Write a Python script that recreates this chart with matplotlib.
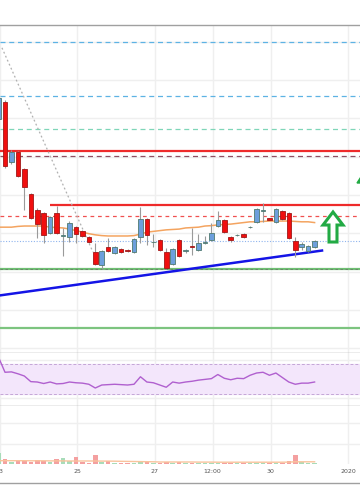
import matplotlib
matplotlib.use('Agg')
import matplotlib.pyplot as plt
from matplotlib.patches import Polygon
import numpy as np

# BTC/USD 4h candles, Dec 22 - Dec 31 2019 (visible part only)
opens  = [7498, 7543, 7386, 7412, 7368, 7303, 7261, 7253, 7201, 7253,
          7194, 7190, 7216, 7206, 7190, 7151, 7117, 7164, 7149, 7159,
          7157, 7151, 7190, 7237, 7177, 7183, 7151, 7120, 7183, 7153,
          7166, 7157, 7175, 7183, 7219, 7235, 7190, 7195, 7198, 7216,
          7230, 7259, 7240, 7230, 7258, 7253, 7180, 7164, 7154, 7164]
highs  = [7558, 7548, 7417, 7415, 7370, 7305, 7266, 7256, 7245, 7271,
          7214, 7232, 7219, 7209, 7193, 7175, 7157, 7188, 7167, 7162,
          7158, 7188, 7269, 7240, 7198, 7185, 7162, 7162, 7185, 7159,
          7214, 7198, 7193, 7227, 7258, 7237, 7193, 7197, 7200, 7218,
          7266, 7279, 7241, 7266, 7261, 7256, 7190, 7177, 7169, 7182]
lows   = [7493, 7370, 7381, 7347, 7261, 7237, 7188, 7175, 7198, 7198,
          7141, 7177, 7175, 7190, 7175, 7117, 7107, 7151, 7146, 7149,
          7151, 7149, 7175, 7170, 7164, 7154, 7107, 7117, 7138, 7149,
          7143, 7154, 7172, 7180, 7216, 7201, 7177, 7194, 7189, 7215,
          7227, 7230, 7234, 7227, 7235, 7185, 7138, 7157, 7151, 7162]
closes = [7553, 7376, 7412, 7350, 7321, 7240, 7224, 7196, 7243, 7201,
          7196, 7227, 7198, 7193, 7177, 7120, 7154, 7154, 7164, 7151,
          7153, 7185, 7237, 7196, 7178, 7157, 7110, 7159, 7141, 7156,
          7163, 7175, 7177, 7201, 7235, 7203, 7183, 7196, 7190, 7217,
          7263, 7261, 7235, 7263, 7237, 7188, 7157, 7172, 7167, 7180]
ema    = [7216, 7216, 7216, 7218, 7219, 7219, 7219, 7219, 7216, 7215,
          7214, 7211, 7207, 7203, 7199, 7196, 7194, 7193, 7193, 7193,
          7193, 7194, 7198, 7203, 7205, 7207, 7209, 7210, 7211, 7214,
          7215, 7216, 7219, 7220, 7222, 7223, 7224, 7226, 7228, 7230,
          7230, 7231, 7232, 7232, 7232, 7232, 7231, 7230, 7230, 7228]
rsi    = [79, 59, 59.5, 57, 54, 46.5, 46, 44, 46, 43.5,
          44, 46, 45, 44.5, 43, 38, 42, 42.5, 43, 42.5,
          42, 43, 53, 46, 45, 42, 39, 46, 44.5, 46,
          47, 48.5, 49.5, 50.5, 56, 51, 49, 51, 50.5, 55,
          58, 59, 55, 58, 52, 46, 43, 44.5, 44.5, 46]
volume = [1.1, 0.5, 0.2, 0.3, 0.35, 0.2, 0.4, 0.3, 0.2, 0.5,
          0.6, 0.3, 0.7, 0.2, 0.15, 0.9, 0.25, 0.3, 0.15, 0.1,
          0.1, 0.15, 0.2, 0.2, 0.1, 0.12, 0.25, 0.15, 0.2, 0.1,
          0.12, 0.15, 0.1, 0.12, 0.15, 0.15, 0.1, 0.08, 0.1, 0.08,
          0.12, 0.12, 0.1, 0.12, 0.15, 0.3, 0.9, 0.2, 0.15, 0.12]
vol_ma = [0.33, 0.33, 0.33, 0.33, 0.33, 0.32, 0.32, 0.32, 0.31, 0.31,
          0.31, 0.30, 0.30, 0.30, 0.30, 0.30, 0.29, 0.29, 0.28, 0.27,
          0.26, 0.25, 0.24, 0.23, 0.22, 0.20, 0.20, 0.20, 0.20, 0.20,
          0.20, 0.19, 0.19, 0.19, 0.18, 0.18, 0.18, 0.18, 0.18, 0.18,
          0.18, 0.18, 0.18, 0.18, 0.18, 0.19, 0.22, 0.22, 0.22, 0.22]

tick_pos    = [1.2, 13.2, 25.2, 34.2, 43.2, 55.2]
tick_labels = ['23', '25', '27', '12:00', '30', '2020']

# drawn levels and lines
blue_levels  = [7700, 7558]
teal_level   = 7472
red_level    = 7415
maroon_level = 7402
res_level    = 7274
res_start    = 9
red_dash     = 7245
dotted_level = 7180
green_levels = [7107, 6953]
trend_x = [1.225, 51.15]
trend_y = [7038, 7155]
diag_x  = [1.53, 15.64]
diag_y  = [7684, 7151]

XLIM = (1.225, 57.04)
GRID = '#efefef'
BORDER = '#a0a0a0'

x = np.arange(1, len(opens) + 1)
o = np.array(opens); c = np.array(closes)
up = c >= o
bottom = np.minimum(o, c)
height = np.maximum(np.abs(c - o), 1.5)

fig = plt.figure(figsize=(3.6, 5.04), dpi=100)
ax = fig.add_axes([0, 151/504, 1, 328/504])
rax = fig.add_axes([0, 98/504, 1, 53/504])
vax = fig.add_axes([0, 40/504, 1, 58/504])
tax = fig.add_axes([0, 21/504, 1, 19/504])

for a in (ax, rax, vax, tax):
    a.set_xlim(*XLIM)
    a.set_xticks([]); a.set_yticks([])
    for s in a.spines.values():
        s.set_visible(False)
    if a is not tax:
        for t in tick_pos:
            a.axvline(t, color=GRID, lw=1, zorder=0)

ax.spines['top'].set_visible(True)
ax.spines['bottom'].set_visible(True)
rax.spines['bottom'].set_visible(True)
tax.spines['bottom'].set_visible(True)
for a, s in ((ax, 'top'), (ax, 'bottom'), (rax, 'bottom'), (tax, 'bottom')):
    a.spines[s].set_color(BORDER)
    a.spines[s].set_linewidth(1)

# main price panel
ax.set_ylim(6887.7, 7743.5)
for p in range(6900, 7701, 100):
    ax.axhline(p, color=GRID, lw=1, zorder=0)

for lv in blue_levels:
    ax.axhline(lv, color='#5db3e4', lw=0.9, ls=(0, (4, 3)), zorder=1)
ax.axhline(teal_level, color='#7fd6b8', lw=0.9, ls=(0, (4, 3)), zorder=1)
ax.axhline(red_level, color='#ee2a2a', lw=1.6, zorder=1)
ax.axhline(maroon_level, color='#8e4f63', lw=0.9, ls=(0, (4, 3)), zorder=1)
ax.hlines(res_level, res_start, XLIM[1], color='#ee2a2a', lw=1.6, zorder=1)
ax.axhline(red_dash, color='#f05050', lw=0.9, ls=(0, (3, 3)), zorder=1)
ax.axhline(dotted_level, color='#8fb4ee', lw=0.8, ls=(0, (1, 1.5)), zorder=1)
ax.axhline(green_levels[0], color='#6fbf73', lw=1.6, zorder=1)
ax.axhline(green_levels[0], color='#6b7d6b', lw=0.6, ls=(0, (3, 3)), zorder=1.1)
ax.axhline(green_levels[1], color='#7cc47f', lw=1.6, zorder=1)

ax.plot(diag_x, diag_y, color='#b0b0b0', lw=0.9, ls=(0, (1.5, 2)), zorder=1.5)
ax.plot(trend_x, trend_y, color='#1414e6', lw=1.8, zorder=2)
ax.plot(x, ema, color='#f4a460', lw=1.1, zorder=2.5)

ax.vlines(x, lows, highs, color='#9a9a9a', lw=0.8, zorder=3)
ax.bar(x[up], height[up], bottom=bottom[up], width=0.7, color='#6d9fdc',
       edgecolor='#4f7a70', lw=0.6, zorder=4)
ax.bar(x[~up], height[~up], bottom=bottom[~up], width=0.7, color='#f00f0f',
       edgecolor='#a01818', lw=0.6, zorder=4)

# hollow green arrow
arrow = Polygon([(0.925, 0.4299), (0.9528, 0.3902), (0.9361, 0.3902), (0.9361, 0.3384),
                 (0.9139, 0.3384), (0.9139, 0.3902), (0.8972, 0.3902)],
                closed=True, transform=ax.transAxes, facecolor='white',
                edgecolor='#22aa44', lw=2.2, zorder=5)
ax.add_patch(arrow)
tip = Polygon([(0.9917, 0.5183), (1.0042, 0.5396), (1.0167, 0.5183)], closed=True,
              transform=ax.transAxes, color='#22aa44', zorder=5)
ax.add_patch(tip)

# RSI panel
rax.set_ylim(14, 84.7)
for g in (25, 50, 75):
    rax.axhline(g, color=GRID, lw=1, zorder=0)
rax.axhspan(30, 70, color='#f3e6fb', zorder=0.5)
rax.axhline(30, color='#c4a6d6', lw=0.7, ls=(0, (3, 2)), zorder=1)
rax.axhline(70, color='#c4a6d6', lw=0.7, ls=(0, (3, 2)), zorder=1)
rax.plot(x, rsi, color='#b060cf', lw=1, zorder=2)

# volume panel
vax.set_ylim(0, 5.8)
for g in (2, 4.1):
    vax.axhline(g, color=GRID, lw=1, zorder=0)
vcol = np.where(up, '#a8dcb9', '#f4a0a0')
vax.bar(x, volume, width=0.7, color=vcol, zorder=2)
vax.plot(x, vol_ma, color='#f9c39c', lw=1, zorder=3)

# time axis
tax.set_ylim(0, 1)
for t, lab in zip(tick_pos, tick_labels):
    tax.text(t, 0.62, lab, ha='center', va='center', fontsize=4.5, color='#555555')

fig.savefig('out.png', dpi=100)
